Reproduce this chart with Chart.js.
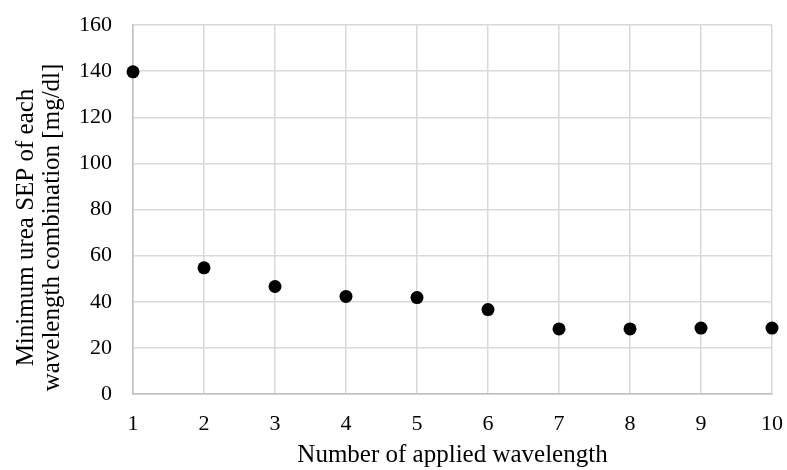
<!DOCTYPE html>
<html>
  <head>
    <title>Minimum urea SEP</title>
    <style>
      html, body{ margin: 0; padding: 0; background-color: #ffffff; }
      canvas{ display: block; }
    </style>
    <script src="https://cdn.jsdelivr.net/npm/chart.js"></script>
  </head>
  <body>
    <canvas id="myChart" width="787" height="470"></canvas>

    <script>
      // Data
      const wavelengths = [1, 2, 3, 4, 5, 6, 7, 8, 9, 10];
      const minSEP = [139.7, 54.7, 46.6, 42.3, 41.8, 36.6, 28.2, 28.2, 28.6, 28.6];
      const yTitle = ['Minimum urea SEP of each', 'wavelength combination [mg/dl]'];
      const xTitle = 'Number of applied wavelength';

      const font = 'Liberation Serif, Times New Roman, serif';
      Chart.defaults.font.family = font;
      Chart.defaults.color = '#000000';

      // y title drawn by hand: it sits a bit below the middle of the plot
      const yTitlePlugin = {
        id: 'yTitle',
        afterDraw(chart) {
          const { ctx, chartArea } = chart;
          ctx.save();
          ctx.font = '25px ' + font;
          ctx.fillStyle = '#000000';
          ctx.textAlign = 'center';
          ctx.textBaseline = 'alphabetic';
          ctx.translate(0, (chartArea.top + chartArea.bottom) / 2 + 18);
          ctx.rotate(-Math.PI / 2);
          yTitle.forEach((line, i) => ctx.fillText(line, 0, 33 + i * 26));
          ctx.restore();
        }
      };

      const ctx = document.getElementById('myChart').getContext('2d');
      const myChart = new Chart(ctx, {
        type: 'scatter',
        data: {
          datasets: [
            {
              label: 'SEP',
              data: wavelengths.map((w, i) => ({ x: w, y: minSEP[i] })),
              backgroundColor: '#000000',
              borderColor: '#000000',
              borderWidth: 0,
              pointRadius: 6.5,
              pointHoverRadius: 6.5,
              clip: false
            }
          ]
        },
        options: {
          responsive: false,
          animation: false,
          layout: { padding: { top: 25, right: 15, left: 0, bottom: 0 } },
          plugins: {
            legend: { display: false },
            tooltip: { enabled: false }
          },
          scales: {
            x: {
              type: 'linear',
              min: 1,
              max: 10,
              ticks: { stepSize: 1, font: { size: 22 }, padding: 17 },
              grid: { color: '#d9d9d9', lineWidth: 1.5, drawTicks: false },
              border: { color: '#bfbfbf', width: 1.5 },
              title: { display: true, text: xTitle, font: { size: 25 }, padding: { top: 0, bottom: 0 } },
              afterFit: (scale) => { scale.height = 76; scale.paddingRight = 0; }
            },
            y: {
              min: 0,
              max: 160,
              ticks: { stepSize: 20, font: { size: 22 }, padding: 21 },
              grid: { color: '#d9d9d9', lineWidth: 1.5, drawTicks: false },
              border: { color: '#bfbfbf', width: 1.5 },
              afterFit: (scale) => { scale.width = 133; scale.paddingTop = 0; scale.paddingBottom = 0; }
            }
          }
        },
        plugins: [yTitlePlugin]
      });
    </script>
  </body>
</html>
